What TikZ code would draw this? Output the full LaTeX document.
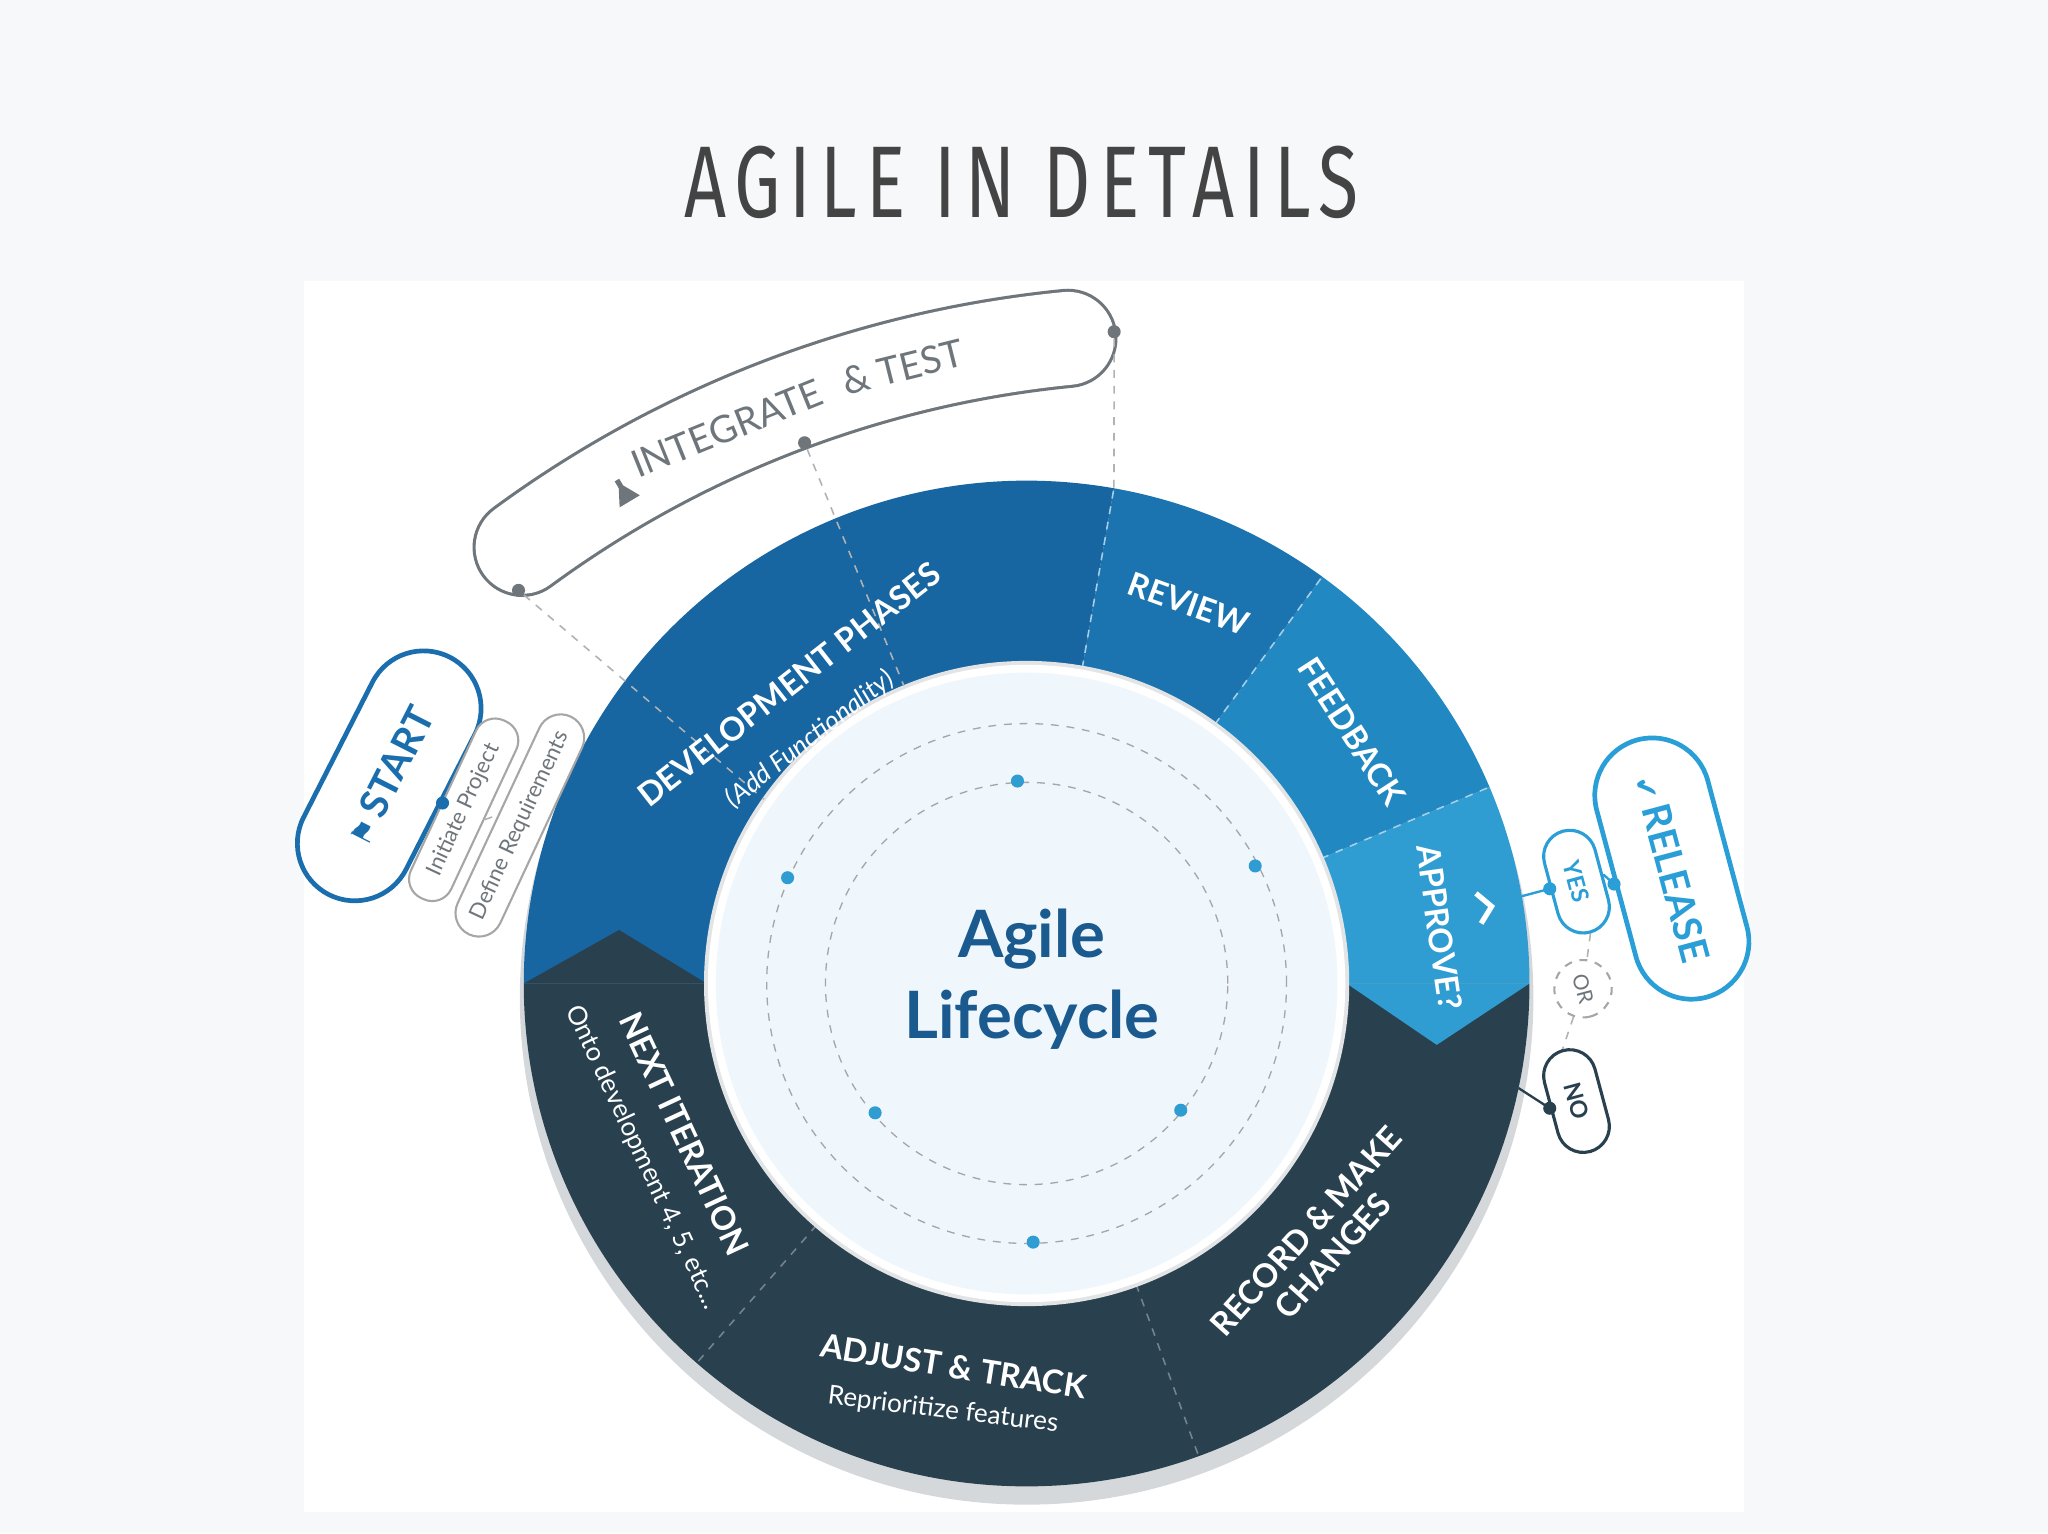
\documentclass[tikz,border=0pt]{standalone}
\usepackage{fontspec}
\setmainfont{Lato}
\newfontfamily\titlefont[FakeStretch=0.72,LetterSpace=9]{Fira Sans}
\newfontfamily\sym{DejaVu Sans}
\usetikzlibrary{calc}
\definecolor{bg}{HTML}{F7F8F9}
\definecolor{darkc}{HTML}{29414F}
\definecolor{devc}{HTML}{1765A1}
\definecolor{revc}{HTML}{1B74B0}
\definecolor{feedc}{HTML}{2288C2}
\definecolor{appc}{HTML}{2F9CD2}
\definecolor{intgray}{HTML}{6E767C}
\definecolor{titlec}{HTML}{444444}
\definecolor{agilec}{HTML}{1A5A8F}
\definecolor{discc}{HTML}{EFF6FC}
\definecolor{shadowc}{HTML}{D5D8DB}
\definecolor{startc}{HTML}{1A6EAE}
\definecolor{relc}{HTML}{2A9ED6}
\newcommand\ringseg[3]{\fill[#3] ($(C)+(#1:385)$) arc[start angle=#1,end angle=#2,radius=385] -- ($(C)+(#2:245)$) arc[start angle=#2,end angle=#1,radius=245] -- cycle;}
\tikzset{
  pill/.style={draw,fill=white,rounded corners=#1,inner sep=0pt},
  dotn/.style={circle,fill=#1,minimum size=5pt,inner sep=0pt},
  seglabel/.style={text=white,font=\fontsize{12.5}{14}\selectfont\bfseries},
  subl/.style={text=white,font=\fontsize{10}{11}\selectfont},
  gdash/.style={dashed,draw=#1,line width=0.6pt}
}
\begin{document}
\begin{tikzpicture}[x=0.5pt,y=0.5pt]
\fill[bg] (0,0) rectangle (1568,1174);
\useasboundingbox (0,0) rectangle (1568,1174);
\fill[white] (233,16) rectangle (1335,959);
\node[font=\titlefont\fontsize{39}{39}\selectfont,text=titlec] (title) at (782,1034) {AGILE IN DETAILS};
\coordinate (C) at (786,421);
\fill[shadowc] (786,410) circle (388);
\ringseg{80}{180}{devc}
\ringseg{54}{80}{revc}
\ringseg{23}{54}{feedc}
\ringseg{180}{360}{darkc}
\fill[darkc] (401,421) -- (474,462) -- (541,421) -- cycle;
\ringseg{0}{23}{appc}
\fill[appc] (1031,421) -- (1100,374) -- (1171,421) -- cycle;
\foreach \a in {80,54,23} \draw[gdash=white!60!feedc] ($(C)+(\a:245)$) -- ($(C)+(\a:385)$);
\foreach \a in {229,290} \draw[gdash=white!35!darkc] ($(C)+(\a:245)$) -- ($(C)+(\a:385)$);
\fill[shadowc!70!white] (C) circle (247);
\fill[white] (C) circle (244);
\fill[discc] (C) circle (238);
\draw[dashed,draw=gray!70,line width=0.5pt] (C) circle (199);
\draw[dashed,draw=gray!70,line width=0.5pt] (C) circle (154);
\foreach \p in {(779,576),(603,502),(961,511),(670,322),(904,324),(791,223)} \node[dotn=appc] at \p {};
\node[text=agilec,font=\fontsize{25}{31}\selectfont\bfseries,align=center] (agile) at (790,424) {Agile\\Lifecycle};
\coordinate (IC) at (900,74);
\draw[intgray,line width=38pt,line cap=round] ($(IC)+(95.6:845)$) arc[start angle=95.6,end angle=126.3,radius=845];
\draw[white,line width=35.6pt,line cap=round] ($(IC)+(95.6:845)$) arc[start angle=95.6,end angle=126.3,radius=845];
\node[rotate=22,text=intgray,font=\fontsize{14.5}{15}\selectfont] (intA) at ($(IC)+(114:845)$) {INTEGRATE};
\node[rotate=14,text=intgray,font=\fontsize{14.5}{15}\selectfont] (intB) at ($(IC)+(104.3:845)$) {\& TEST};
\fill[intgray,shift={(478,797)},rotate=31] (-9,-8) -- (9,-8) -- (2,5) -- (2,11) -- (-2,11) -- (-2,5) -- cycle;
\node[dotn=intgray] (d1) at (397,722) {};
\node[dotn=intgray] (d2) at (616,835) {};
\node[dotn=intgray] (d3) at (853,920) {};
\coordinate (e1) at (585,562);
\coordinate (e2) at (692,649);
\coordinate (e3) at ($(C)+(80:385)$);
\draw[gdash=gray!60] (d1) -- (e1);
\draw[gdash=gray!60] (d2) -- (e2);
\draw[gdash=gray!60] (d3) -- (e3);
\node[seglabel,rotate=38] (dev) at (604,650) {DEVELOPMENT PHASES};
\node[subl,rotate=38,font=\fontsize{10}{11}\selectfont\itshape] (devs) at (620,608) {(Add Functionality)};
\node[seglabel,rotate=-20] (rev) at (910,712) {REVIEW};
\node[seglabel,rotate=-57] (feed) at (1035,614) {FEEDBACK};
\node[seglabel,rotate=-82] (app) at (1102,464) {APPROVE?};
\draw[white,line width=2pt] (1130,490) -- (1142,480) -- (1134,467);
\node[seglabel,rotate=-65] (next) at (524,306) {NEXT ITERATION};
\node[subl,rotate=-65] (nexts) at (492,288) {Onto development 4, 5, etc...};
\node[seglabel,rotate=-9] (adj) at (730,128) {ADJUST \& TRACK};
\node[subl,rotate=-7] (adjs) at (722,94) {Reprioritize features};
\node[seglabel,rotate=48,align=center] (rec) at (1010,222) {RECORD \& MAKE\\CHANGES};
\node[pill=22pt,draw=startc,line width=1.8pt,minimum width=102pt,minimum height=44pt,rotate=63,text=startc,font=\fontsize{15}{15}\selectfont\bfseries] (start) at (298,580) {{\sym\fontsize{11}{11}\selectfont ⚑}\,START};
\node[pill=8pt,draw=gray!70,line width=0.8pt,minimum width=75pt,minimum height=17pt,rotate=65,text=intgray,font=\fontsize{8.5}{9}\selectfont] (init) at (355,554) {Initiate Project};
\node[pill=9pt,draw=gray!70,line width=0.8pt,minimum width=92pt,minimum height=18pt,rotate=65,text=intgray,font=\fontsize{8.5}{9}\selectfont] (def) at (398,542) {Define Requirements};
\draw[startc,line width=0.8pt] (start.south) -- (init.north);
\draw[gdash=gray!60] (init.south) -- (def.north);
\node[dotn=startc] at (start.south) {};
\node[pill=22pt,draw=relc,line width=1.8pt,minimum width=102pt,minimum height=44pt,rotate=-75,text=relc,font=\fontsize{15}{15}\selectfont\bfseries] (rel) at (1280,509) {{\sym\fontsize{11}{11}\selectfont ✔}\,RELEASE};
\node[pill=10pt,draw=relc,line width=1.2pt,minimum width=40pt,minimum height=20pt,rotate=-75,text=relc,font=\fontsize{9}{9}\selectfont\bfseries] (yes) at (1207,499) {YES};
\node[circle,dashed,draw=gray!70,line width=0.8pt,minimum size=22pt,inner sep=0pt,rotate=-75,text=intgray,font=\fontsize{8}{8}\selectfont] (or) at (1212,417) {OR};
\node[pill=10pt,draw=darkc,line width=1.2pt,minimum width=40pt,minimum height=20pt,rotate=-75,text=darkc,font=\fontsize{9}{9}\selectfont\bfseries] (no) at (1207,331) {NO};
\coordinate (ry) at ($(C)+(10:385)$);
\coordinate (rn) at ($(C)+(-12:385)$);
\draw[relc,line width=0.9pt] (ry) -- (yes.south);
\draw[relc,line width=0.9pt] (yes.north) -- (rel.south);
\node[dotn=relc] at (yes.south) {};
\node[dotn=relc] at (rel.south) {};
\draw[darkc,line width=0.9pt] (rn) -- (no.south);
\node[dotn=darkc] at (no.south) {};
\draw[gdash=gray!60] (yes.east) -- (or);
\draw[gdash=gray!60] (or) -- (no.west);
\end{tikzpicture}
\end{document}
